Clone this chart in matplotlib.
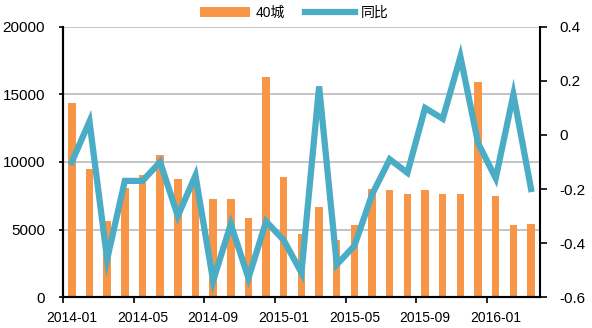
"""Monthly 40-city volume (bars) with year-on-year change (line) on a twin axis."""
import matplotlib
matplotlib.use("Agg")
import matplotlib.pyplot as plt
import numpy as np
from matplotlib.ticker import FuncFormatter

plt.rcParams["font.family"] = ["Liberation Sans", "Noto Sans CJK SC", "DejaVu Sans"]

MONTHS = [
    "2014-01", "2014-02", "2014-03", "2014-04", "2014-05", "2014-06", "2014-07",
    "2014-08", "2014-09", "2014-10", "2014-11", "2014-12", "2015-01", "2015-02",
    "2015-03", "2015-04", "2015-05", "2015-06", "2015-07", "2015-08", "2015-09",
    "2015-10", "2015-11", "2015-12", "2016-01", "2016-02", "2016-03",
]
VOLUME = [
    14400, 9450, 5600, 8050, 9000, 10550, 8750, 8850, 7250, 7250, 5850, 16300,
    8900, 4650, 6700, 4200, 5300, 8000, 7900, 7650, 7900, 7650, 7650, 15900,
    7500, 5300, 5400,
]
YOY = [
    -0.10, 0.05, -0.46, -0.17, -0.17, -0.10, -0.30, -0.15, -0.54, -0.33, -0.53,
    -0.32, -0.39, -0.51, 0.18, -0.48, -0.41, -0.22, -0.09, -0.14, 0.10, 0.06,
    0.29, -0.03, -0.16, 0.15, -0.20,
]
LABEL_EVERY = 4

BAR_COLOR = "#F79646"
LINE_COLOR = "#4BACC6"

x = np.arange(len(MONTHS))

fig = plt.figure(figsize=(5.92, 3.28), dpi=100)
ax = fig.add_axes([0.1064, 0.0945, 0.8056, 0.8232])
ax2 = ax.twinx()

bars = ax.bar(x, VOLUME, width=0.42, color=BAR_COLOR, zorder=2, label="40城")
line, = ax2.plot(x, YOY, color=LINE_COLOR, lw=4.5, solid_joinstyle="miter",
                 label="同比", zorder=3)

ax.set_xlim(-0.5, len(MONTHS) - 0.5)
ax.set_ylim(0, 20000)
ax.set_yticks(np.arange(0, 20001, 5000))
ax.yaxis.grid(True, color="#BFBFBF", lw=1.3, zorder=0)
ax.set_axisbelow(True)

ax2.set_ylim(-0.6, 0.4)
ax2.set_yticks(np.round(np.arange(-0.6, 0.41, 0.2), 1))
ax2.yaxis.set_major_formatter(
    FuncFormatter(lambda v, _: "0" if abs(v) < 1e-9 else f"{v:.1f}"))

# tick marks sit on category boundaries, labels under the bar centres
ax.set_xticks(np.arange(0, len(MONTHS), LABEL_EVERY) - 0.5)
ax.set_xticklabels([])
ax.set_xticks(np.arange(0, len(MONTHS), LABEL_EVERY), minor=True)
ax.set_xticklabels(MONTHS[::LABEL_EVERY], minor=True)
ax.tick_params(axis="x", which="major", length=4, width=1.2, direction="out")
ax.tick_params(axis="x", which="minor", length=0, pad=10, labelsize=10)
ax.tick_params(axis="y", length=3, width=1.2, pad=10, labelsize=11)
ax2.tick_params(axis="y", length=5, width=1.2, pad=9, labelsize=11)

for a in (ax, ax2):
    a.spines["top"].set_visible(False)
    for s in ("left", "right", "bottom"):
        a.spines[s].set_linewidth(1.5)
        a.spines[s].set_color("black")
ax.spines["right"].set_visible(False)

fig.legend([bars, line], ["40城", "同比"], loc="center",
           bbox_to_anchor=(0.497, 0.96), ncol=2, frameon=False,
           handlelength=3.6, fontsize=10, columnspacing=1.5, handletextpad=0.4)

fig.savefig("out.png", dpi=100)
